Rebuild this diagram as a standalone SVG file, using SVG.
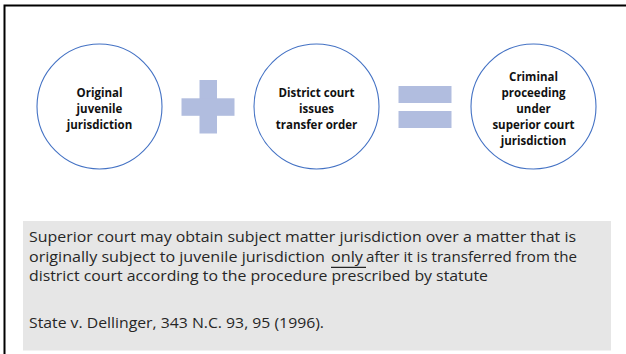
<svg xmlns="http://www.w3.org/2000/svg" width="626" height="354" viewBox="0 0 626 354">
<style>
.c{fill:#ffffff;stroke:#4472c4;stroke-width:1.1}
.ct{font-family:"Open Sans","Liberation Sans",sans-serif;font-weight:bold;font-size:11.5px;fill:#111;text-anchor:middle}
.op{fill:#b1bddf}
.bt{font-family:"Open Sans","Liberation Sans",sans-serif;font-size:14px;fill:#262626}
</style>
<rect x="0" y="0" width="626" height="354" fill="#ffffff"/>
<path d="M4.5 354 V5.5 H626" fill="none" stroke="#000" stroke-width="2"/>
<g id="node-original">
<circle class="c" cx="99.5" cy="106.5" r="62.5"/>
<text class="ct" x="99.5" y="97">Original</text>
<text class="ct" x="99.5" y="113">juvenile</text>
<text class="ct" x="99.5" y="129">jurisdiction</text>
</g>
<g id="op-plus">
<rect class="op" x="199.5" y="80" width="17.5" height="53.5"/>
<rect class="op" x="181.5" y="98.3" width="53" height="17.5"/>
</g>
<g id="node-transfer">
<circle class="c" cx="316.5" cy="106.5" r="62.5"/>
<text class="ct" x="316.5" y="97">District court</text>
<text class="ct" x="316.5" y="113">issues</text>
<text class="ct" x="316.5" y="129">transfer order</text>
</g>
<g id="op-equals">
<rect class="op" x="398.5" y="86" width="53" height="17"/>
<rect class="op" x="398.5" y="111" width="53" height="17"/>
</g>
<g id="node-criminal">
<circle class="c" cx="533.5" cy="106.5" r="62.5"/>
<text class="ct" x="533.5" y="81">Criminal</text>
<text class="ct" x="533.5" y="97">proceeding</text>
<text class="ct" x="533.5" y="113">under</text>
<text class="ct" x="533.5" y="129">superior court</text>
<text class="ct" x="533.5" y="145">jurisdiction</text>
</g>
<g id="connectors"></g>
<g id="note">
<rect x="23" y="221" width="588" height="129.5" fill="#e6e6e6"/>
<text class="bt" x="29" y="242" textLength="547" lengthAdjust="spacingAndGlyphs">Superior court may obtain subject matter jurisdiction over a matter that is</text>
<text class="bt" x="29" y="261.5" textLength="296" lengthAdjust="spacingAndGlyphs">originally subject to juvenile jurisdiction</text>
<text class="bt" x="331" y="261.5" textLength="32" lengthAdjust="spacingAndGlyphs">only</text>
<text class="bt" x="366" y="261.5" textLength="211" lengthAdjust="spacingAndGlyphs">after it is transferred from the</text>
<line x1="331" y1="267.3" x2="366" y2="267.3" stroke="#262626" stroke-width="1.3"/>
<text class="bt" x="29" y="281" textLength="459" lengthAdjust="spacingAndGlyphs">district court according to the procedure prescribed by statute</text>
<text class="bt" x="29" y="328" textLength="295" lengthAdjust="spacingAndGlyphs">State v. Dellinger, 343 N.C. 93, 95 (1996).</text>
</g>
</svg>
